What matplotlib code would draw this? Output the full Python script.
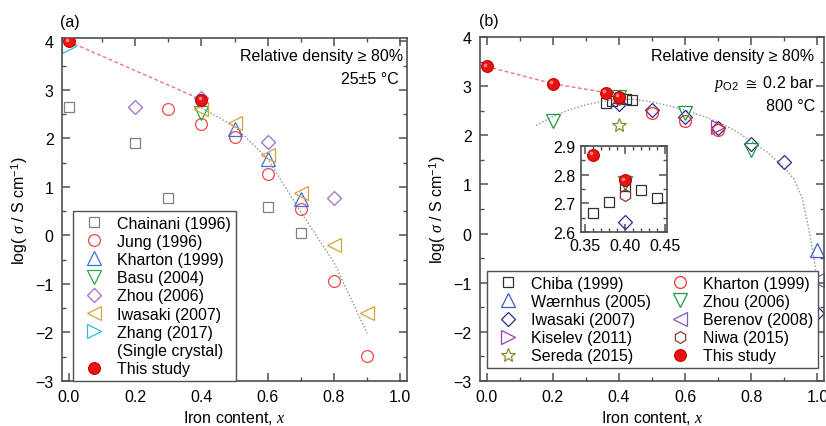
import matplotlib
matplotlib.use("Agg")
import matplotlib.pyplot as plt
from matplotlib.lines import Line2D
from matplotlib.ticker import MultipleLocator
from matplotlib.transforms import offset_copy

plt.rcParams['font.family'] = ['Liberation Sans', 'DejaVu Sans']
plt.rcParams['mathtext.fontset'] = 'custom'
plt.rcParams['mathtext.rm'] = 'Liberation Sans'
plt.rcParams['mathtext.it'] = 'Liberation Serif:italic'
FS = 11.5
plt.rcParams['font.size'] = FS

# ---------------- Panel (a) data: 25 C ----------------
a_chainani_x = [0.0, 0.2, 0.3, 0.6, 0.7]
a_chainani_y = [2.65, 1.90, 0.77, 0.58, 0.05]
a_jung_x = [0.3, 0.4, 0.5, 0.6, 0.7, 0.8, 0.9]
a_jung_y = [2.60, 2.30, 2.02, 1.27, 0.55, -0.93, -2.48]
a_kharton_x = [0.5, 0.6, 0.7]
a_kharton_y = [2.20, 1.58, 0.75]
a_basu_x = [0.4]
a_basu_y = [2.53]
a_zhou_x = [0.2, 0.4, 0.6, 0.8]
a_zhou_y = [2.65, 2.83, 1.92, 0.77]
a_iwasaki_x = [0.4, 0.5, 0.6, 0.7, 0.8, 0.9]
a_iwasaki_y = [2.60, 2.32, 1.65, 0.87, -0.20, -1.60]
a_zhang_x = [0.0]
a_zhang_y = [3.90]
a_study_x = [0.0, 0.4]
a_study_y = [4.00, 2.80]
a_fit_x = [0.4, 0.5, 0.6, 0.7, 0.8, 0.9]
a_fit_y = [2.63, 2.25, 1.58, 0.48, -0.56, -2.02]

# ---------------- Panel (b) data: 800 C ----------------
b_chiba_x = [0.36, 0.38, 0.40, 0.42, 0.44]
b_chiba_y = [2.665, 2.705, 2.76, 2.745, 2.72]
b_waernhus_x = [1.0]
b_waernhus_y = [-0.33]
b_iwasaki_x = [0.4, 0.5, 0.6, 0.7, 0.8, 0.9, 1.0]
b_iwasaki_y = [2.635, 2.52, 2.37, 2.15, 1.82, 1.45, -1.62]
b_kiselev_x = [0.7]
b_kiselev_y = [2.16]
b_sereda_x = [0.4]
b_sereda_y = [2.20]
b_kharton_x = [0.5, 0.6, 0.7]
b_kharton_y = [2.45, 2.30, 2.10]
b_zhou_x = [0.2, 0.4, 0.6, 0.8]
b_zhou_y = [2.29, 2.77, 2.45, 1.71]
b_berenov_x = [1.0]
b_berenov_y = [-0.94]
b_niwa_x = [0.4]
b_niwa_y = [2.73]
b_study_x = [0.0, 0.2, 0.36, 0.4]
b_study_y = [3.40, 3.05, 2.87, 2.78]
b_fit_x = [0.15, 0.2, 0.25, 0.3, 0.35, 0.4, 0.45, 0.5, 0.55, 0.6, 0.65, 0.7,
           0.75, 0.8, 0.85, 0.9, 0.93, 0.955, 0.975, 0.99, 1.0]
b_fit_y = [2.20, 2.38, 2.52, 2.62, 2.69, 2.73, 2.73, 2.68, 2.60, 2.51, 2.40, 2.27,
           2.10, 1.88, 1.65, 1.34, 1.10, 0.70, 0.05, -0.50, -1.00]

x_ticks = [0.0, 0.2, 0.4, 0.6, 0.8, 1.0]
y_ticks = [-3, -2, -1, 0, 1, 2, 3, 4]

RED_BALL = dict(marker='o', ms=8.5, mfc='#e81414', mec='#c80000', mew=0.8, ls='none')
SPINE = '#505050'


def open_mk(marker, color, ms, mew=0.9):
    return dict(marker=marker, ms=ms, mfc='none', mec=color, mew=mew, ls='none')


def red_balls(ax, x, y, label=None):
    line = ax.plot(x, y, **RED_BALL, zorder=5, label=label)[0]
    tr = offset_copy(ax.transData, fig=ax.figure, x=-1.3, y=1.3, units='points')
    ax.plot(x, y, marker='o', ms=2.6, mfc='#ff9a9a', mec='none', ls='none', alpha=0.9,
            transform=tr, zorder=6)
    return line


def style_axes(ax, xminor, yminor, pad=6):
    for s in ax.spines.values():
        s.set_color(SPINE)
        s.set_linewidth(1.2)
    ax.tick_params(which='both', direction='in', top=True, right=True, color=SPINE,
                   labelsize=FS, pad=pad)
    ax.tick_params(which='major', length=5.5, width=1.1)
    ax.tick_params(which='minor', length=3, width=1.0)
    ax.xaxis.set_minor_locator(MultipleLocator(xminor))
    ax.yaxis.set_minor_locator(MultipleLocator(yminor))


fig = plt.figure(figsize=(8.26, 4.27), dpi=100)
axa = fig.add_axes([62 / 826, 45 / 427, 345 / 826, 343 / 427])
axb = fig.add_axes([480 / 826, 45 / 427, 344 / 826, 344 / 427])

LEG_KW = dict(loc='upper left', borderaxespad=0, fontsize=FS, frameon=True, fancybox=False,
              edgecolor=SPINE, framealpha=1, labelspacing=0.2, handlelength=2.0,
              handletextpad=0.45, borderpad=0.3, numpoints=1)

# ---------- (a) ----------
axa.plot(a_study_x, a_study_y, ls=(0, (3, 2)), color='#f06a6a', lw=0.9, zorder=2)
axa.plot(a_fit_x, a_fit_y, ls=(0, (1, 1.5)), color='#909090', lw=1.0, zorder=2)
h = []
h.append(axa.plot(a_chainani_x, a_chainani_y, **open_mk('s', '#808080', 7.5), label='Chainani (1996)')[0])
h.append(axa.plot(a_jung_x, a_jung_y, **open_mk('o', '#f04848', 8.5), label='Jung (1996)')[0])
h.append(axa.plot(a_kharton_x, a_kharton_y, **open_mk('^', '#3d6fd6', 10.5), label='Kharton (1999)')[0])
h.append(axa.plot(a_basu_x, a_basu_y, **open_mk('v', '#2aa84a', 10.5), label='Basu (2004)')[0])
h.append(axa.plot(a_zhou_x, a_zhou_y, **open_mk('D', '#9c6cd0', 7.2), label='Zhou (2006)')[0])
h.append(axa.plot(a_iwasaki_x, a_iwasaki_y, **open_mk('<', '#d6a23a', 10.5), label='Iwasaki (2007)')[0])
h.append(axa.plot(a_zhang_x, a_zhang_y, **open_mk('>', '#2bbcd6', 10.5), label='Zhang (2017)')[0])
h.append(Line2D([], [], ls='none', marker='none', label='(Single crystal)'))
h.append(red_balls(axa, a_study_x, a_study_y, label='This study'))

axa.set_xlim(-0.02, 1.02)
axa.set_ylim(-3, 4.07)
axa.set_xticks(x_ticks)
axa.set_xticklabels([f'{v:.1f}' for v in x_ticks])
axa.set_yticks(y_ticks)
style_axes(axa, 0.1, 0.5)
axa.set_xlabel('Iron content, $x$', fontsize=FS, labelpad=3)
axa.set_ylabel(r'log( $\sigma$ / S cm$^{-1}$)', fontsize=FS, labelpad=4)
axa.text(-0.005, 1.047, '(a)', transform=axa.transAxes, fontsize=FS, ha='left', va='center')
axa.text(0.988, 0.948, 'Relative density ≥ 80%', transform=axa.transAxes, fontsize=FS,
         ha='right', va='center')
axa.text(0.975, 0.883, '25±5 °C', transform=axa.transAxes, fontsize=FS, ha='right', va='center')
lega = axa.legend(handles=h, bbox_to_anchor=(0.032, 0.496), **LEG_KW)
lega.get_frame().set_linewidth(1.0)


# ---------- (b) ----------
def draw_b(ax, lines=True):
    if lines:
        ax.plot(b_study_x, b_study_y, ls=(0, (3, 2)), color='#f06a6a', lw=0.9, zorder=2)
        ax.plot(b_fit_x, b_fit_y, ls=(0, (1, 1.5)), color='#909090', lw=1.0, zorder=2)
    hb = []
    hb.append(ax.plot(b_chiba_x, b_chiba_y, **open_mk('s', '#303030', 7.5), label='Chiba (1999)')[0])
    hb.append(ax.plot(b_waernhus_x, b_waernhus_y, **open_mk('^', '#3a5ccc', 10.5), label='Wærnhus (2005)')[0])
    hb.append(ax.plot(b_iwasaki_x, b_iwasaki_y, **open_mk('D', '#2c2a8e', 7.2), label='Iwasaki (2007)')[0])
    hb.append(ax.plot(b_kiselev_x, b_kiselev_y, **open_mk('>', '#9a3ea8', 10.5), label='Kiselev (2011)')[0])
    hb.append(ax.plot(b_sereda_x, b_sereda_y, **open_mk('*', '#8a8a2a', 10.5), label='Sereda (2015)')[0])
    hb.append(ax.plot(b_kharton_x, b_kharton_y, **open_mk('o', '#f83030', 8.5), label='Kharton (1999)')[0])
    hb.append(ax.plot(b_zhou_x, b_zhou_y, **open_mk('v', '#1e9a3e', 10.5), label='Zhou (2006)')[0])
    hb.append(ax.plot(b_berenov_x, b_berenov_y, **open_mk('<', '#7a5cc0', 10.5), label='Berenov (2008)')[0])
    hb.append(ax.plot(b_niwa_x, b_niwa_y, **open_mk('h', '#8e3a2c', 8.5), label='Niwa (2015)')[0])
    hb.append(red_balls(ax, b_study_x, b_study_y, label='This study'))
    return hb


hb = draw_b(axb)
axb.set_xlim(-0.02, 1.02)
axb.set_ylim(-3, 4.0)
axb.set_xticks(x_ticks)
axb.set_xticklabels([f'{v:.1f}' for v in x_ticks])
axb.set_yticks(y_ticks)
style_axes(axb, 0.1, 0.5)
axb.set_xlabel('Iron content, $x$', fontsize=FS, labelpad=3)
axb.set_ylabel(r'log( $\sigma$ / S cm$^{-1}$)', fontsize=FS, labelpad=4)
axb.text(-0.003, 1.047, '(b)', transform=axb.transAxes, fontsize=FS, ha='left', va='center')
axb.text(0.971, 0.945, 'Relative density ≥ 80%', transform=axb.transAxes, fontsize=FS,
         ha='right', va='center')
axb.text(0.971, 0.866, r'$p_{\mathrm{O2}}$ $\cong$ 0.2 bar', transform=axb.transAxes, fontsize=FS,
         ha='right', va='center')
axb.text(0.975, 0.80, '800 °C', transform=axb.transAxes, fontsize=FS, ha='right', va='center')
legb = axb.legend(handles=hb, ncol=2, bbox_to_anchor=(0.02, 0.32), columnspacing=0.8, **LEG_KW)
legb.get_frame().set_linewidth(1.0)

# ---------- inset ----------
axi = fig.add_axes([581 / 826, (427 - 233) / 427, 86 / 826, 86 / 427])
draw_b(axi, lines=False)
axi.set_xlim(0.345, 0.452)
axi.set_ylim(2.6, 2.9)
axi.set_xticks([0.35, 0.40, 0.45])
axi.set_xticklabels(['0.35', '0.40', '0.45'])
axi.set_yticks([2.6, 2.7, 2.8, 2.9])
axi.set_yticklabels(['2.6', '2.7', '2.8', '2.9'])
style_axes(axi, 0.01, 0.05, pad=4)

fig.savefig('out.png', dpi=100)
